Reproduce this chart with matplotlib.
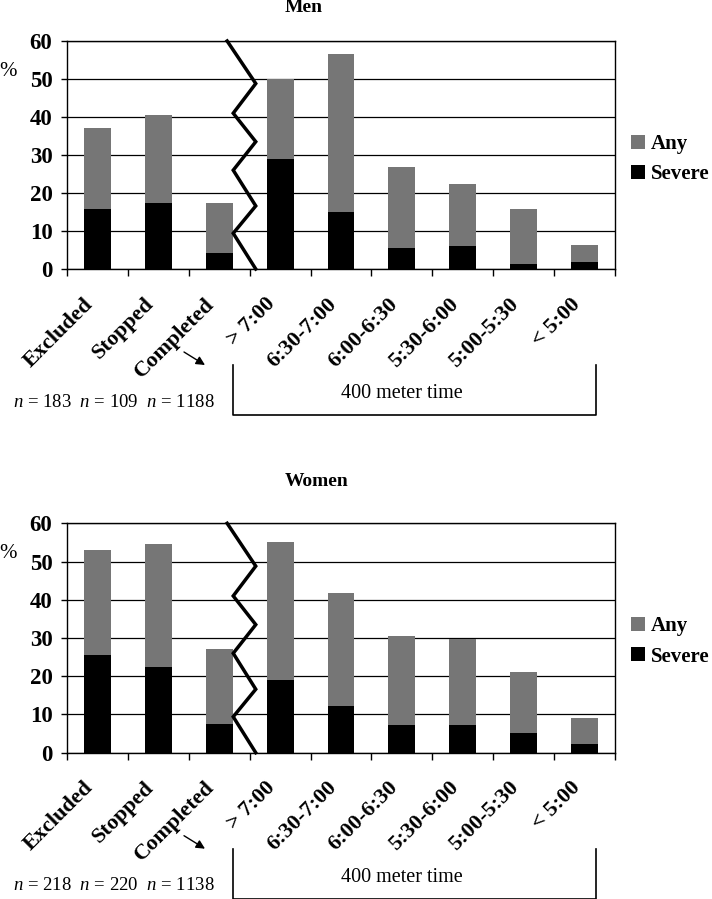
"""
Prevalencia de limitación (Any / Severe) por grupo y tiempo de 400 m,
dos paneles: hombres arriba, mujeres abajo.
"""

import numpy as np
import matplotlib
matplotlib.use("Agg")
import matplotlib.pyplot as plt
from matplotlib.patches import Patch
from matplotlib.lines import Line2D

# ── Datos ─────────────────────────────────────────────────────────────────────
categorias = ["Excluded", "Stopped", "Completed", "> 7:00", "6:30-7:00",
              "6:00-6:30", "5:30-6:00", "5:00-5:30", "< 5:00"]

men_any      = [37.2, 40.4, 17.3, 49.9, 56.6, 26.9, 22.3, 15.9, 6.2]
men_severe   = [15.7, 17.3, 4.3, 28.9, 15.0, 5.6, 6.0, 1.4, 1.8]
women_any    = [52.9, 54.7, 27.2, 55.2, 41.9, 30.5, 29.8, 21.1, 9.1]
women_severe = [25.6, 22.5, 7.4, 19.1, 12.1, 7.2, 7.2, 5.1, 2.3]

men_n   = [183, 109, 1188]
women_n = [218, 220, 1138]

# línea en zigzag que separa grupos de tiempos (coordenadas de datos)
zigzag_x = [2.13, 2.60, 2.23, 2.60, 2.23, 2.60, 2.23, 2.60]
zigzag_y = [60, 48.8, 41.0, 33.5, 26.0, 16.6, 9.4, 0]

# ── Estilo ────────────────────────────────────────────────────────────────────
plt.rcParams["font.family"] = "Liberation Serif"
plt.rcParams["mathtext.fontset"] = "custom"
plt.rcParams["mathtext.it"] = "Liberation Serif:italic"
plt.rcParams["mathtext.rm"] = "Liberation Serif"

COLOR_ANY = "#767676"
COLOR_SEV = "black"
W, H = 712, 899

def fx(x):
    return x / W

def fy(y):
    return 1 - y / H

fig = plt.figure(figsize=(W / 100, H / 100), dpi=100)

paneles = [
    ("Men",   men_any,   men_severe,   men_n,   41.0,  269.0, 8),
    ("Women", women_any, women_severe, women_n, 523.3, 752.7, 481),
]

x = np.arange(len(categorias))

for titulo, y_any, y_sev, n, top, bottom, y_tit in paneles:
    ax = fig.add_axes([fx(67), fy(bottom), (615 - 67) / W, (bottom - top) / H])

    ax.bar(x, y_any, width=0.44, color=COLOR_ANY, zorder=2)
    ax.bar(x, y_sev, width=0.44, color=COLOR_SEV, zorder=3)
    ax.plot(zigzag_x, zigzag_y, color="black", lw=2.5, clip_on=False,
            zorder=5, solid_joinstyle="miter")

    ax.set_xlim(-0.5, len(categorias) - 0.5)
    ax.set_ylim(0, 60)
    ax.set_yticks(range(0, 61, 10))
    ax.set_yticklabels([str(v) for v in range(0, 61, 10)],
                       fontweight="bold", fontsize=16.5)
    ax.yaxis.grid(True, color="black", lw=0.9, zorder=1)
    ax.set_axisbelow(True)
    for s in ax.spines.values():
        s.set_color("black")
        s.set_linewidth(1.0)

    ax.set_xticks(np.arange(len(categorias) + 1) - 0.5)
    ax.set_xticklabels([])
    ax.set_xticks(x - 0.24, minor=True)
    ax.set_xticklabels(categorias, minor=True, rotation=45, ha="right",
                       va="top", rotation_mode="anchor",
                       fontweight="bold", fontsize=16)
    ax.tick_params(axis="x", which="major", length=5, width=1, direction="out")
    ax.tick_params(axis="x", which="minor", length=0, pad=18)
    ax.tick_params(axis="y", length=4.5, width=1, pad=6)

    # título y etiqueta del eje
    fig.text(fx(285), fy(y_tit), titulo, ha="left", va="center",
             fontsize=14, fontweight="bold")
    fig.text(fx(8), fy(top + 30), "%", ha="center", va="center", fontsize=15)

    # leyenda
    handles = [Patch(facecolor=COLOR_ANY), Patch(facecolor=COLOR_SEV)]
    ax.legend(handles, ["Any", "Severe"], loc="upper left",
              bbox_to_anchor=(fx(631), fy(top + 93)),
              bbox_transform=fig.transFigure, frameon=False, borderpad=0,
              borderaxespad=0, handlelength=0.67, handleheight=0.67,
              handletextpad=0.3, labelspacing=0.5,
              prop={"weight": "bold", "size": 15})

    # tamaños de muestra
    fig.text(fx(13), fy(bottom + 133),
             "  ".join(f"$n$ = {v}" for v in n),
             ha="left", va="center", fontsize=13.5)

    # flecha desde "Completed"
    fig.add_artist(plt.Annotation(
        "", xy=(fx(205), fy(bottom + 96)), xytext=(fx(184), fy(bottom + 83)),
        xycoords="figure fraction",
        arrowprops=dict(arrowstyle="-|>", color="black", lw=1,
                        mutation_scale=13, shrinkA=0, shrinkB=0)))

    # corchete "400 meter time"
    fig.add_artist(Line2D([fx(233), fx(233), fx(596), fx(596)],
                          [fy(bottom + 96), fy(bottom + 146),
                           fy(bottom + 146), fy(bottom + 96)],
                          transform=fig.transFigure, color="black", lw=1.2))
    fig.text(fx(402), fy(bottom + 125), "400 meter time",
             ha="center", va="center", fontsize=14.5)

fig.savefig("out.png", dpi=100)
